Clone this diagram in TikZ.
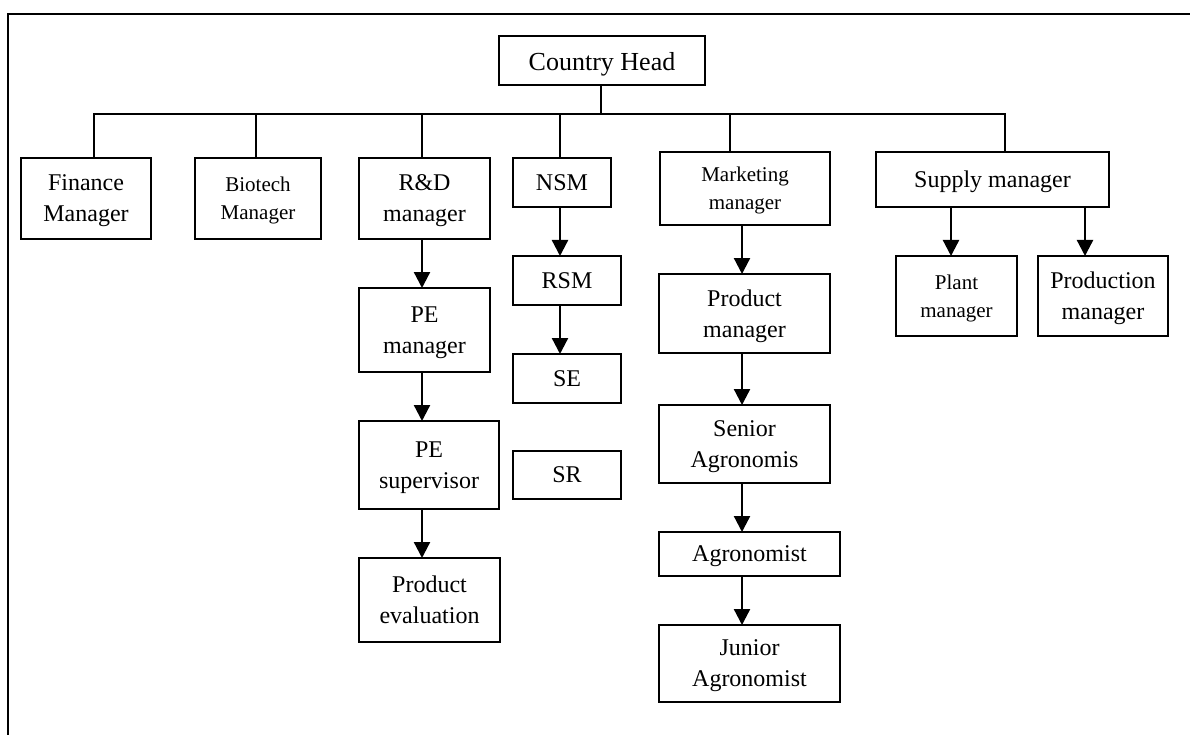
\documentclass[tikz,border=0pt]{standalone}
\usepackage{fontspec}
\setmainfont{Liberation Serif}
\usetikzlibrary{arrows.meta}
\begin{document}
\begin{tikzpicture}[x=1pt,y=-1pt,
  box/.style={draw,line width=1.6pt,inner sep=0pt,outer sep=0pt,align=center,
    font=\fontsize{24}{31}\selectfont,text depth=-2pt},
  smalltext/.style={font=\fontsize{21}{28}\selectfont},
  bigtext/.style={font=\fontsize{26}{32}\selectfont,text height=26pt,text depth=6pt},
  link/.style={line width=1.5pt},
  arr/.style={line width=2.3pt,-{Triangle[width=16pt,length=16pt]}}]
\useasboundingbox (0,0) rectangle (1190,735);
% frame
\draw[line width=1.6pt] (8,735) -- (8,14) -- (1190,14);

% top level
\node[box,bigtext,minimum width=206,minimum height=49] (head) at (602,60.5) {Country Head};

% second level
\node[box,minimum width=130,minimum height=81] (fin) at (86,198.5) {Finance\\Manager};
\node[box,smalltext,minimum width=126,minimum height=81] (bio) at (258,198.5) {Biotech\\Manager};
\node[box,minimum width=131,minimum height=81] (rd) at (424.5,198.5) {R\&D\\manager};
\node[box,minimum width=98,minimum height=49] (nsm) at (562,182.5) {NSM};
\node[box,smalltext,minimum width=170,minimum height=73] (mkt) at (745,188.5) {Marketing\\manager};
\node[box,minimum width=233,minimum height=55] (sup) at (992.5,179.5) {Supply manager};

% R&D branch
\node[box,minimum width=131,minimum height=84] (pem) at (424.5,330) {PE\\manager};
\node[box,minimum width=140,minimum height=88] (pes) at (429,465) {PE\\supervisor};
\node[box,minimum width=141,minimum height=84] (pev) at (429.5,600) {Product\\evaluation};

% sales branch
\node[box,minimum width=108,minimum height=49] (rsm) at (567,280.5) {RSM};
\node[box,minimum width=108,minimum height=49] (se) at (567,378.5) {SE};
\node[box,minimum width=108,minimum height=48] (sr) at (567,475) {SR};

% marketing branch
\node[box,minimum width=171,minimum height=79] (pm) at (744.5,313.5) {Product\\manager};
\node[box,minimum width=171,minimum height=78] (sen) at (744.5,444) {Senior\\Agronomis};
\node[box,minimum width=181,minimum height=44] (agr) at (749.5,554) {Agronomist};
\node[box,minimum width=181,minimum height=77] (jun) at (749.5,663.5) {Junior\\Agronomist};

% supply branch
\node[box,smalltext,minimum width=121,minimum height=80] (plant) at (956.5,296) {Plant\\manager};
\node[box,minimum width=130,minimum height=80] (prod) at (1103,296) {Production\\manager};

% bus junctions
\coordinate (bl) at (94,114);
\coordinate (br) at (1005,114);
\coordinate (jh) at (601,114);
\coordinate (jbio) at (256,114);
\coordinate (jrd) at (422,114);
\coordinate (jnsm) at (560,114);
\coordinate (jmkt) at (730,114);

% organisation links
\draw[link] (head.south -| jh) -- (jh);
\draw[link] (fin.north -| bl) -- (bl) -- (br) -- (sup.north -| br);
\draw[link] (jbio) -- (jbio |- bio.north);
\draw[link] (jrd) -- (jrd |- rd.north);
\draw[link] (jnsm) -- (jnsm |- nsm.north);
\draw[link] (jmkt) -- (jmkt |- mkt.north);

% reporting arrows
\coordinate (xa) at (422,0);
\coordinate (xb) at (560,0);
\coordinate (xc) at (742,0);
\coordinate (xd) at (951,0);
\coordinate (xe) at (1085,0);
\draw[arr] (rd.south -| xa) -- (pem.north -| xa);
\draw[arr] (pem.south -| xa) -- (pes.north -| xa);
\draw[arr] (pes.south -| xa) -- (pev.north -| xa);
\draw[arr] (nsm.south -| xb) -- (rsm.north -| xb);
\draw[arr] (rsm.south -| xb) -- (se.north -| xb);
\draw[arr] (mkt.south -| xc) -- (pm.north -| xc);
\draw[arr] (pm.south -| xc) -- (sen.north -| xc);
\draw[arr] (sen.south -| xc) -- (agr.north -| xc);
\draw[arr] (agr.south -| xc) -- (jun.north -| xc);
\draw[arr] (sup.south -| xd) -- (plant.north -| xd);
\draw[arr] (sup.south -| xe) -- (prod.north -| xe);
\end{tikzpicture}
\end{document}
